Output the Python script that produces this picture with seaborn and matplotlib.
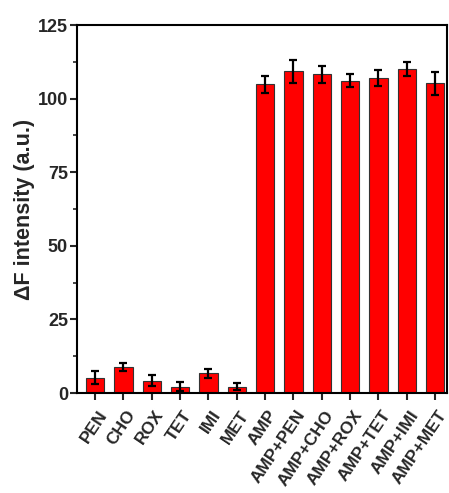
import matplotlib
matplotlib.use("Agg")
import matplotlib.pyplot as plt
import matplotlib.transforms as mtransforms
import seaborn as sns
import pandas as pd
import numpy as np
from matplotlib.ticker import MultipleLocator

categories = ["PEN", "CHO", "ROX", "TET", "IMI", "MET", "AMP",
              "AMP+PEN", "AMP+CHO", "AMP+ROX", "AMP+TET", "AMP+IMI", "AMP+MET"]
values = [5.2, 8.9, 4.2, 2.2, 6.7, 2.2, 104.8, 109.3, 108.2, 106.1, 107.0, 110.1, 105.2]
errors = [2.3, 1.4, 1.9, 1.4, 1.5, 1.1, 3.0, 3.9, 2.8, 2.2, 2.8, 2.3, 4.0]
yticks = [0, 25, 50, 75, 100, 125]

sns.set_theme(style="white")
plt.rcParams["font.family"] = ["Liberation Sans", "DejaVu Sans"]
plt.rcParams["font.weight"] = "bold"

df = pd.DataFrame({"cat": categories, "val": values, "err": errors})

fig = plt.figure(figsize=(4.49, 4.93), dpi=100)
ax = fig.add_axes([77/449, 1 - 393/493, (447-77)/449, (393-25)/493])

sns.barplot(data=df, x="cat", y="val", order=categories, color="#ff0000",
            saturation=1, width=0.64, edgecolor="#333333", linewidth=0.8,
            errorbar=None, ax=ax)
xpos = np.arange(len(categories))
ax.errorbar(xpos, df["val"], yerr=df["err"], fmt="none", ecolor="black",
            elinewidth=1.6, capsize=3, capthick=1.6)

ax.set_ylim(0, 125)
ax.set_xlim(-0.64, 12.42)

for s in ax.spines.values():
    s.set_linewidth(1.5)
    s.set_color("black")
ax.tick_params(axis="both", which="major", direction="out", length=5, width=1.5,
               bottom=True, left=True, top=False, right=False, pad=1.5)
ax.tick_params(axis="y", which="minor", direction="out", length=3, width=1.2, left=True)

ax.set_yticks(yticks)
ax.yaxis.set_minor_locator(MultipleLocator(12.5))
ax.set_yticklabels([str(t) for t in yticks], fontsize=13, fontweight="bold")
ax.set_xticks(xpos)
ax.set_xticklabels(categories, rotation=56, ha="right", va="top",
                   rotation_mode="anchor", fontsize=12.5, fontweight="bold")
offset = mtransforms.ScaledTranslation(1.8/72, -4/72, fig.dpi_scale_trans)
for lab in ax.get_xticklabels():
    lab.set_transform(lab.get_transform() + offset)
ax.set_xlabel("")
ax.set_ylabel("ΔF intensity (a.u.)", fontsize=15.5, fontweight="bold", labelpad=2)

fig.savefig("out.png", dpi=100)
